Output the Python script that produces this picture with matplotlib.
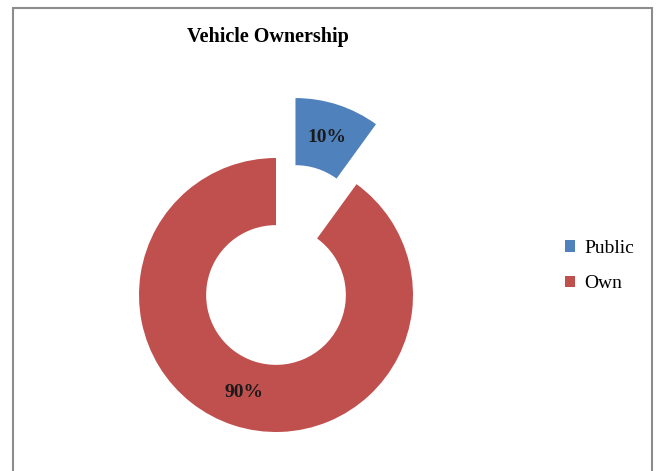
import matplotlib
matplotlib.use("Agg")
import matplotlib.pyplot as plt
from matplotlib.patches import Rectangle

categories = ["Public", "Own"]
values = [10, 90]
colors = ["#4F81BD", "#C0504D"]
explode = [0.46, 0.0]
title = "Vehicle Ownership"

W, H = 661, 471
fig = plt.figure(figsize=(W / 100, H / 100), dpi=100)
fig.patch.set_facecolor("white")

# border
fig.patches.append(Rectangle((13 / W, -0.05), (652 - 13) / W, 1.05 - 8 / H,
                             transform=fig.transFigure, fill=False,
                             edgecolor="#8c8c8c", linewidth=1.5))

R = 137.0
cx, cy = 276.0, H - 295.0
half = 220.0
ax = fig.add_axes([(cx - half) / W, (cy - half) / H, 2 * half / W, 2 * half / H])

wedges, texts, autotexts = ax.pie(
    values, colors=colors, explode=explode, startangle=90, counterclock=False,
    radius=1.0, wedgeprops=dict(width=0.49, linewidth=0),
    autopct=lambda p: f"{p:.0f}%", pctdistance=0.75,
    textprops=dict(family="Liberation Serif", fontweight="bold", fontsize=14, color="#1a1a1a"),
    frame=True)
ax.set_xlim(-half / R, half / R)
ax.set_ylim(-half / R, half / R)
ax.set_aspect("equal")
ax.axis("off")

fig.text(268 / W, 1 - 37 / H, title, ha="center", va="center",
         family="Liberation Serif", fontweight="bold", fontsize=14.5)

leg = fig.legend(wedges, categories, loc="center left",
                 bbox_to_anchor=(547 / W, 1 - 266 / H), frameon=False,
                 prop=dict(family="Liberation Serif", size=14),
                 handlelength=0.55, handleheight=0.55, handletextpad=0.45,
                 labelspacing=0.95)

fig.savefig("out.png", dpi=100)
